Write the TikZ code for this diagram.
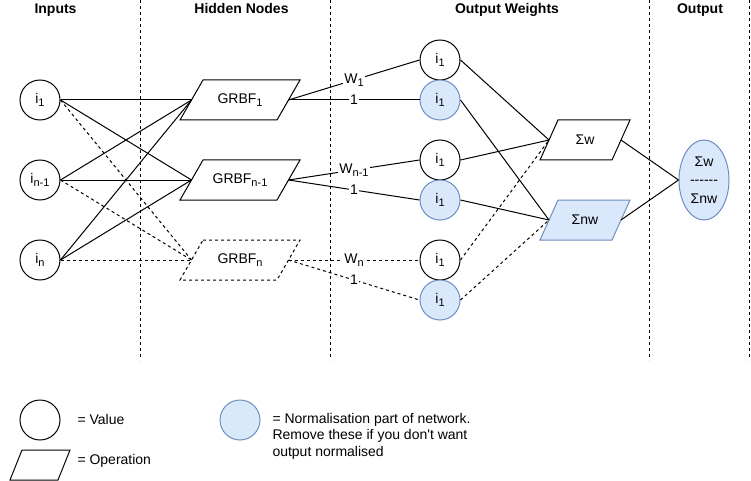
\documentclass[tikz,border=0pt]{standalone}
\usepackage{fontspec}
\setmainfont{Liberation Sans}
\usetikzlibrary{shapes.geometric,calc}
\definecolor{nfill}{HTML}{DAE8FC}
\definecolor{nstroke}{HTML}{6C8EBF}
\newcommand\sbs[1]{\raisebox{-2.5pt}{\fontsize{11}{12}\selectfont #1}}
% name, x, y, width, height, skew, style, text
\newcommand\plg[8]{%
  \path[#7] (#2-#4/2+#6, #3-#5/2) -- (#2+#4/2, #3-#5/2) -- (#2+#4/2-#6, #3+#5/2) -- (#2-#4/2, #3+#5/2) -- cycle;
  \node[inner sep=0, minimum width=#4, minimum height=#5] (#1) at (#2,#3) {#8};
  \coordinate (#1-l) at (#2-#4/2+#6/2, #3);
  \coordinate (#1-r) at (#2+#4/2-#6/2, #3);
}
\begin{document}
\begin{tikzpicture}[x=1pt,y=-1pt, line width=1pt, font=\fontsize{14}{16.5}\selectfont,
  valnode/.style={circle,draw,minimum size=40,inner sep=0},
  normnode/.style={valnode,draw=nstroke,fill=nfill},
  opshape/.style={draw,line join=miter},
  normop/.style={draw=nstroke,fill=nfill,line join=miter},
  dashop/.style={draw,dash pattern=on 3pt off 3pt},
  link/.style={draw},
  dlink/.style={draw,dash pattern=on 3pt off 3pt},
  colsep/.style={draw,dash pattern=on 3pt off 3pt},
  hdr/.style={font=\fontsize{14}{16}\selectfont\bfseries, anchor=base, inner sep=0},
  wlab/.style={fill=white,inner sep=1pt,midway},
  legtxt/.style={anchor=base west, inner sep=0}
]
\useasboundingbox (0,0) rectangle (751,481);

% column separators
\draw[colsep] (140,0) -- (140,360);
\draw[colsep] (330,0) -- (330,360);
\draw[colsep] (649,0) -- (649,360);
\draw[colsep] (749,0) -- (749,360);

% headers
\node[hdr] (hin) at (55.5,13.5) {Inputs};
\node[hdr] (hhid) at (241.5,13.5) {Hidden Nodes};
\node[hdr] (hw) at (507,13.5) {Output Weights};
\node[hdr] (hout) at (700,13.5) {Output};

% inputs
\node[valnode] (i1) at (40,100) {i\sbs{1}};
\node[valnode] (in1) at (40,180) {i\sbs{n-1}};
\node[valnode] (in) at (40,260) {i\sbs{n}};

% hidden
\plg{g1}{240}{100}{120}{40}{23}{opshape}{GRBF\sbs{1}}
\plg{g2}{240}{180}{120}{40}{23}{opshape}{GRBF\sbs{n-1}}
\plg{g3}{240}{260}{120}{40}{23}{dashop}{GRBF\sbs{n}}

% output weights
\node[valnode] (o1) at (440,60) {i\sbs{1}};
\node[normnode] (o2) at (440,100) {i\sbs{1}};
\node[valnode] (o3) at (440,160) {i\sbs{1}};
\node[normnode] (o4) at (440,200) {i\sbs{1}};
\node[valnode] (o5) at (440,260) {i\sbs{1}};
\node[normnode] (o6) at (440,300) {i\sbs{1}};

% sums
\plg{sw}{585}{140}{90}{40}{18}{opshape}{Σw}
\plg{snw}{585}{220}{90}{40}{18}{normop}{Σnw}

% output
\node[ellipse,draw=nstroke,fill=nfill,minimum width=50,minimum height=80,inner sep=0,align=center,
  font=\fontsize{14}{18.5}\selectfont] (out) at (704,180) {Σw\\-{}-{}-{}-{}-{}-\\Σnw};

% input -> hidden
\draw[link] (i1.east) -- (g1-l);
\draw[link] (i1.east) -- (g2-l);
\draw[dlink] (i1.east) -- (g3-l);
\draw[link] (in1.east) -- (g1-l);
\draw[link] (in1.east) -- (g2-l);
\draw[dlink] (in1.east) -- (g3-l);
\draw[link] (in.east) -- (g1-l);
\draw[link] (in.east) -- (g2-l);
\draw[dlink] (in.east) -- (g3-l);

% hidden -> weights
\draw[link] (g1-r) -- (o1.west) node[wlab] (l1) {W\sbs{1}};
\draw[link] (g1-r) -- (o2.west) node[wlab] (l2) {1};
\draw[link] (g2-r) -- (o3.west) node[wlab] (l3) {W\sbs{n-1}};
\draw[link] (g2-r) -- (o4.west) node[wlab] (l4) {1};
\draw[dlink] (g3-r) -- (o5.west) node[wlab] (l5) {W\sbs{n}};
\draw[dlink] (g3-r) -- (o6.west) node[wlab] (l6) {1};

% weights -> sums
\draw[link] (o1.east) -- (sw-l);
\draw[link] (o3.east) -- (sw-l);
\draw[dlink] (o5.east) -- (sw-l);
\draw[link] (o2.east) -- (snw-l);
\draw[link] (o4.east) -- (snw-l);
\draw[dlink] (o6.east) -- (snw-l);

% sums -> output
\draw[link] (sw-r) -- (out.west);
\draw[link] (snw-r) -- (out.west);

% legend
\node[valnode] (lv) at (40,420) {};
\node[legtxt] (lvt) at (77,424) {= Value};
\plg{lo}{40}{465}{60}{30}{12}{opshape}{}
\node[legtxt] (lot) at (77,464) {= Operation};
\node[normnode] (ln) at (240,420) {};
\node[anchor=west,align=left,inner sep=0] (lnt) at (272,436) {= Normalisation part of network.\\Remove these if you don\textquotesingle t want\\output normalised};
\end{tikzpicture}
\end{document}
